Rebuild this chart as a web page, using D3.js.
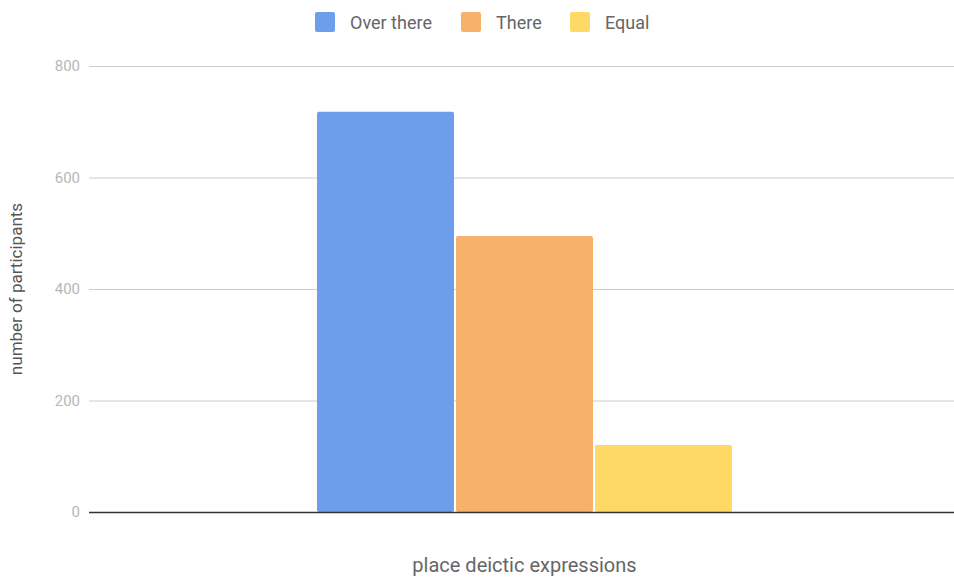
<!DOCTYPE html>
<html>
<head>
<meta charset="utf-8">
<script src="https://cdn.jsdelivr.net/npm/d3@7"></script>
<style>
  html, body { margin: 0; padding: 0; background: #fff; }
  svg { display: block; font-family: Roboto, "Noto Sans", sans-serif; }
</style>
</head>
<body>
<svg id="chart" width="954" height="577"></svg>
<script>
// Data
const categories = ["place deictic expressions"];
const seriesNames = ["Over there", "There", "Equal"];
const seriesValues = [718, 495, 120];
const seriesColors = ["#6d9eeb", "#f6b26b", "#ffd966"];
const yTicks = [0, 200, 400, 600, 800];

const svg = d3.select("#chart");
const W = 954, H = 577;
const margin = { left: 89, right: -6, top: 66, bottom: 65 };
const plotBottom = H - margin.bottom;

const y = d3.scaleLinear().domain([0, 800]).range([plotBottom, margin.top]);
const x0 = d3.scaleBand().domain(categories).range([margin.left, W - margin.right]).padding(0.3525);
const x1 = d3.scaleBand().domain(seriesNames).range([0, x0.bandwidth()]).padding(0);

// Gridlines + tick labels
const yAxis = d3.axisLeft(y).tickValues(yTicks).tickSize(-(W - margin.left)).tickPadding(9);
const gy = svg.append("g").attr("transform", `translate(${margin.left},0)`).call(yAxis);
gy.select(".domain").remove();
gy.selectAll(".tick line").attr("stroke", "#cccccc").attr("stroke-width", 1);
gy.selectAll(".tick text").attr("fill", "#b7b7b7").attr("font-size", 15)
  .attr("font-family", "Roboto, sans-serif");

// Bars
const g = svg.append("g").attr("transform", `translate(${x0(categories[0])},0)`);
g.selectAll("rect").data(seriesNames.map((s, i) => ({ s, v: seriesValues[i], c: seriesColors[i] })))
  .join("rect")
  .attr("x", d => x1(d.s) + 1)
  .attr("width", x1.bandwidth() - 2)
  .attr("y", d => y(d.v))
  .attr("height", d => y(0) - y(d.v))
  .attr("rx", 2).attr("ry", 2)
  .attr("fill", d => d.c);

// Baseline
svg.append("line")
  .attr("x1", margin.left).attr("x2", W)
  .attr("y1", y(0) + 0.5).attr("y2", y(0) + 0.5)
  .attr("stroke", "#333").attr("stroke-width", 1.3);

// Axis titles
svg.append("text")
  .attr("transform", `translate(22,289) rotate(-90)`)
  .attr("text-anchor", "middle")
  .attr("fill", "#555").attr("font-size", 17)
  .text("number of participants");

svg.append("text")
  .attr("x", x0(categories[0]) + x0.bandwidth() / 2).attr("y", 572)
  .attr("text-anchor", "middle")
  .attr("fill", "#666").attr("font-size", 20)
  .text(categories[0]);

// Legend
const legendX = [315, 461, 570];
const lg = svg.append("g");
seriesNames.forEach((s, i) => {
  lg.append("rect").attr("x", legendX[i]).attr("y", 12).attr("width", 20).attr("height", 20)
    .attr("rx", 2).attr("fill", seriesColors[i]);
  lg.append("text").attr("x", legendX[i] + 35).attr("y", 29)
    .attr("fill", "#666").attr("font-size", 18).text(s);
});
</script>
</body>
</html>
